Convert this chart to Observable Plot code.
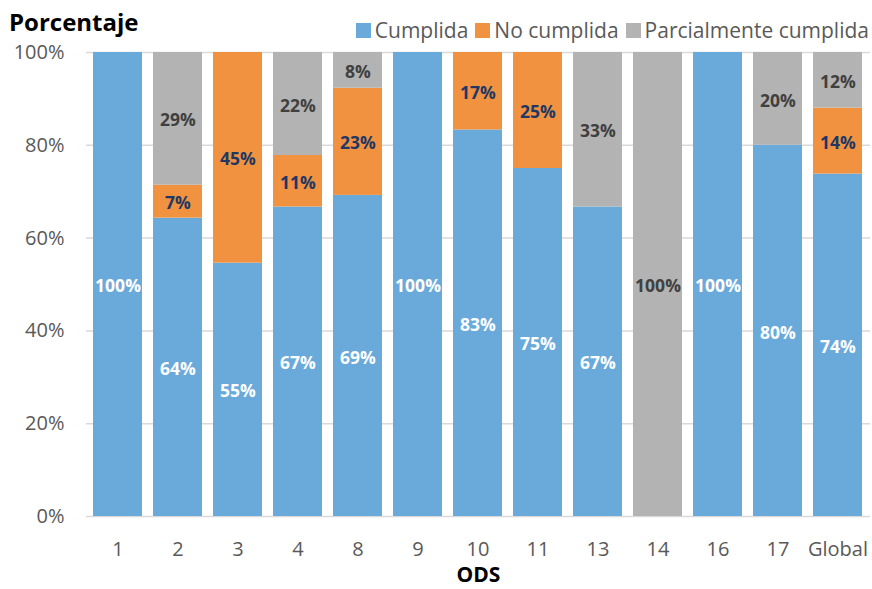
<!DOCTYPE html>
<html>
<head>
<meta charset="utf-8">
<script src="https://cdn.jsdelivr.net/npm/d3@7"></script>
<script src="https://cdn.jsdelivr.net/npm/@observablehq/plot@0.6"></script>
<style>
  body { margin: 0; background: #fff; font-family: "Open Sans", sans-serif; }
  #wrap { position: relative; width: 872px; height: 589px; }
  #title { position: absolute; left: 9px; top: 8px; font-size: 24px; font-weight: bold; color: #000; line-height: 1.2; z-index: 2; }
  #legend { position: absolute; right: 3px; top: 20px; display: flex; align-items: center; font-size: 21px; color: #595959; line-height: 1; z-index: 2; }
  #legend .sw { width: 15px; height: 15px; display: inline-block; margin-right: 4px; }
  #legend .item { display: flex; align-items: center; margin-left: 7px; }
  #chart { position: absolute; left: 0; top: 30px; }
  #chart svg { overflow: visible; }
</style>
</head>
<body>
<div id="wrap">
  <div id="chart"></div>
  <div id="title">Porcentaje</div>
  <div id="legend"></div>
</div>
<script>
const ods = ["1", "2", "3", "4", "8", "9", "10", "11", "13", "14", "16", "17", "Global"];
const cumplida =   [100, 64.3, 54.6, 66.7, 69.2, 100, 83.3, 75, 66.7, 0, 100, 80, 73.8];
const noCumplida = [0, 7.1, 45.4, 11.1, 23.1, 0, 16.7, 25, 0, 0, 0, 0, 14.2];
const parcial =    [0, 28.6, 0, 22.2, 7.7, 0, 0, 0, 33.3, 100, 0, 20, 12];
const series = ["Cumplida", "No cumplida", "Parcialmente cumplida"];
const colors = ["#6aaadb", "#f19241", "#b3b3b3"];
const labelColors = ["#ffffff", "#1f3864", "#404040"];
const yTicks = [0, 20, 40, 60, 80, 100];

const seriesValues = [cumplida, noCumplida, parcial];
const data = [];
ods.forEach((o, i) => {
  series.forEach((s, j) => {
    data.push({ods: o, estado: s, valor: seriesValues[j][i], label: labelColors[j]});
  });
});

const legend = document.getElementById("legend");
series.forEach((s, j) => {
  const it = document.createElement("span");
  it.className = "item";
  it.innerHTML = `<span class="sw" style="background:${colors[j]}"></span>${s}`;
  legend.appendChild(it);
});

const chart = Plot.plot({
  width: 872,
  height: 559,
  marginTop: 22,
  marginBottom: 73,
  marginLeft: 86,
  marginRight: 2,
  style: {fontFamily: "Open Sans, sans-serif", fontSize: "20px", color: "#595959", background: "transparent"},
  x: {domain: ods, paddingInner: 0.18, paddingOuter: 0.09, label: null},
  y: {domain: [0, 100], label: null},
  color: {domain: series, range: colors},
  marks: [
    Plot.gridY(yTicks, {stroke: "#d9d9d9", strokeOpacity: 1, strokeWidth: 1.5}),
    Plot.barY(data, {x: "ods", y: "valor", fill: "estado", order: series}),
    Plot.text(data.filter(d => d.valor > 0), Plot.stackY({
      x: "ods", y: "valor", z: "estado", order: series,
      text: d => Math.round(d.valor) + "%",
      fill: "label", fontWeight: "bold", fontSize: 17.5, dy: 2
    })),
    Plot.axisY(yTicks, {tickSize: 0, tickPadding: 22, tickFormat: d => d + "%", fontSize: 20, fill: "#595959"}),
    Plot.axisX({tickSize: 0, tickPadding: 25, fontSize: 20, fill: "#595959", label: null}),
    Plot.text(["ODS"], {frameAnchor: "bottom", dy: 65, fontWeight: "bold", fontSize: 21, fill: "#000"})
  ]
});
document.getElementById("chart").appendChild(chart);
</script>
</body>
</html>
